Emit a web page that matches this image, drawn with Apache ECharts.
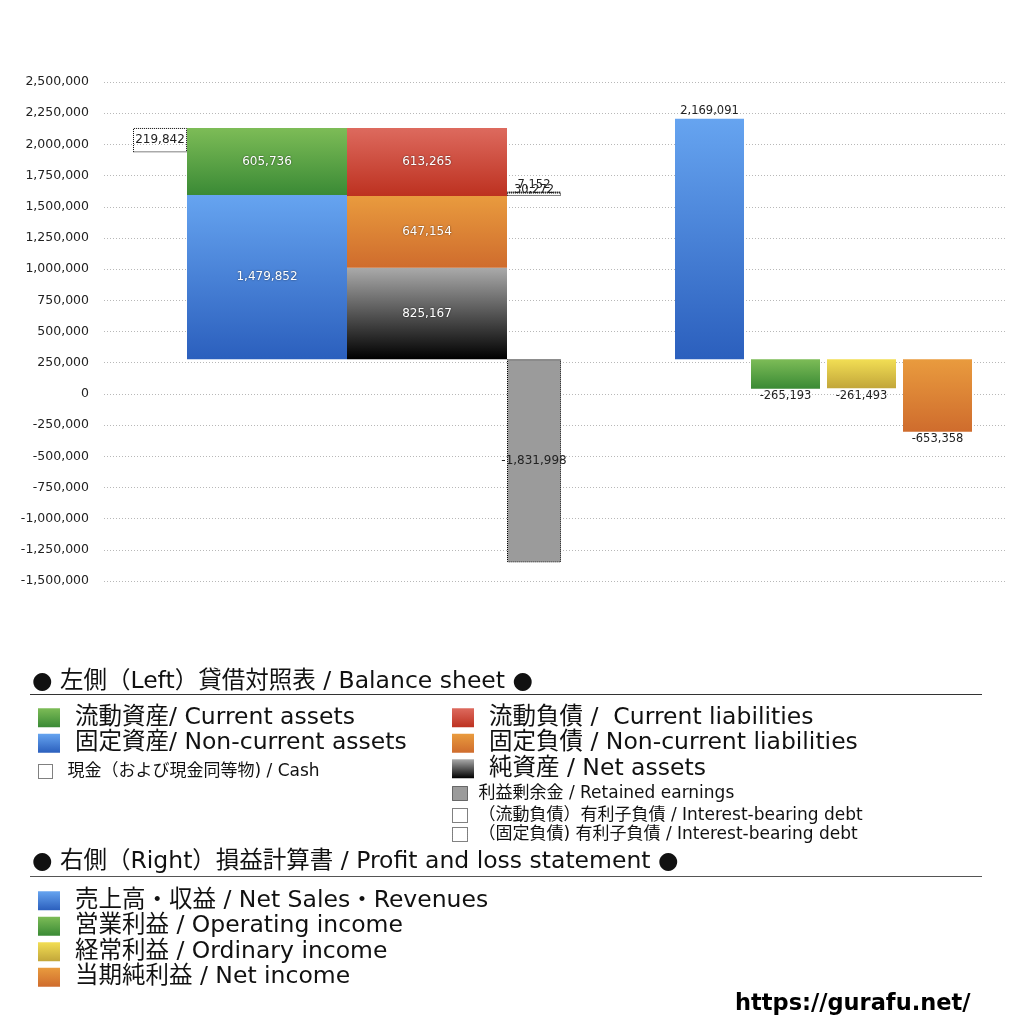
<!DOCTYPE html>
<html><head><meta charset="utf-8">
<script src="https://cdn.jsdelivr.net/npm/echarts@6/dist/echarts.min.js"></script>
<style>html,body{margin:0;padding:0;background:#fff}#c{width:1024px;height:1024px}</style>
</head><body><div id="c"></div>
<script>
// ---- data ----
const assetNames = ['流動資産/ Current assets', '固定資産/ Non-current assets'];
const assetValues = [605736, 1479852];
const liabilityNames = ['流動負債 /  Current liabilities', '固定負債 / Non-current liabilities', '純資産 / Net assets'];
const liabilityValues = [613265, 647154, 825167];
const cashNames = ['現金（および現金同等物) / Cash'];
const cashValues = [219842];
const retainedNames = ['利益剰余金 / Retained earnings'];
const retainedValues = [-1831998];
const debtNames = ['（流動負債）有利子負債 / Interest-bearing debt', '（固定負債) 有利子負債 / Interest-bearing debt'];
const debtValues = [7152, 30272];
const plNames = ['売上高・収益 / Net Sales・Revenues', '営業利益 / Operating income', '経常利益 / Ordinary income', '当期純利益 / Net income'];
const plValues = [2169091, -265193, -261493, -653358];
const bsCategories = ['貸借対照表'];
const plCategories = ['売上高', '営業利益', '経常利益', '当期純利益'];
const yTickRange = [-1500000, 2500000];
const yTickStep = 250000;
const dataRange = [-2000000, 2500000];

// ---- style ----
const FONT = '"DejaVu Sans", "Noto Sans CJK JP", sans-serif';
const grad = (a, b) => new echarts.graphic.LinearGradient(0, 0, 0, 1, [{offset: 0, color: a}, {offset: 1, color: b}]);
const C = {
  green: () => grad('#7dbc57', '#3a8a35'),
  blue: () => grad('#66a4f0', '#2b5fbd'),
  red: () => grad('#dd6a5e', '#bd3120'),
  orange: () => grad('#e99b3e', '#cf6c2d'),
  black: () => grad('#aaaaaa', '#000000'),
  yellow: () => grad('#f2de54', '#c2a63a')
};
const fmt = v => Number(v).toLocaleString('en-US');
const whiteLabel = {show: true, position: 'inside', color: '#fff', fontSize: 12, fontFamily: FONT,
  textShadowColor: 'rgba(0,0,0,0.6)', textShadowBlur: 2, formatter: p => fmt(p.value)};
const darkLabel = pos => ({show: true, position: pos, color: '#222', fontSize: 11.5, fontFamily: FONT, distance: 2, formatter: p => fmt(p.value)});
const dotted = fill => ({color: fill, borderColor: '#000', borderWidth: 1, borderType: 'dotted'});

const assetTotal = assetValues[0] + assetValues[1];
const bsCommon = {type: 'bar', xAxisIndex: 1, yAxisIndex: 1, barGap: '0%'};
const series = [
  Object.assign({}, bsCommon, {name: '_cashBase', stack: 'cash', barWidth: 54, data: [assetTotal - cashValues[0]], itemStyle: {color: 'transparent'}, silent: true}),
  Object.assign({}, bsCommon, {name: cashNames[0], stack: 'cash', barWidth: 54, data: cashValues, itemStyle: dotted('transparent'), label: Object.assign(darkLabel('inside'), {fontSize: 12})}),
  Object.assign({}, bsCommon, {name: assetNames[1], stack: 'assets', barWidth: 160, data: [assetValues[1]], itemStyle: {color: C.blue()}, label: whiteLabel}),
  Object.assign({}, bsCommon, {name: assetNames[0], stack: 'assets', barWidth: 160, data: [assetValues[0]], itemStyle: {color: C.green()}, label: whiteLabel}),
  Object.assign({}, bsCommon, {name: liabilityNames[2], stack: 'liab', barWidth: 160, data: [liabilityValues[2]], itemStyle: {color: C.black()}, label: whiteLabel}),
  Object.assign({}, bsCommon, {name: liabilityNames[1], stack: 'liab', barWidth: 160, data: [liabilityValues[1]], itemStyle: {color: C.orange()}, label: whiteLabel}),
  Object.assign({}, bsCommon, {name: liabilityNames[0], stack: 'liab', barWidth: 160, data: [liabilityValues[0]], itemStyle: {color: C.red()}, label: whiteLabel}),
  Object.assign({}, bsCommon, {name: '_debtBase', stack: 'debt', barWidth: 54, data: [liabilityValues[2] + liabilityValues[1]], itemStyle: {color: 'transparent'}, silent: true}),
  Object.assign({}, bsCommon, {name: debtNames[1], stack: 'debt', barWidth: 54, data: [debtValues[1]], itemStyle: dotted('transparent'), label: Object.assign(darkLabel('top'), {distance: 0, offset: [0, 3]})}),
  Object.assign({}, bsCommon, {name: debtNames[0], stack: 'debt', barWidth: 54, data: [debtValues[0]], itemStyle: dotted('transparent'), label: Object.assign(darkLabel('top'), {distance: 1})}),
  Object.assign({}, bsCommon, {name: retainedNames[0], stack: 'debt', barWidth: 54, data: retainedValues, itemStyle: dotted('#9b9b9b'), label: Object.assign(darkLabel('inside'), {fontSize: 12})})
];
const plColors = [C.blue, C.green, C.yellow, C.orange];
plNames.forEach((n, i) => {
  series.push({
    type: 'bar', name: n, stack: 'pl', xAxisIndex: 2, yAxisIndex: 2, barWidth: 69,
    data: plValues.map((v, j) => j === i ? v : '-'),
    itemStyle: {color: plColors[i]()},
    label: darkLabel(plValues[i] >= 0 ? 'top' : 'bottom')
  });
});

const legendBase = (extra) => Object.assign({
  orient: 'vertical', icon: 'rect', selectedMode: false, padding: 0, itemWidth: 22, itemHeight: 19, itemGap: 2,
  textStyle: {fontSize: 23.5, lineHeight: 16, color: '#111', fontFamily: FONT, padding: [6, 0, 0, 10]}
}, extra);
const smallText = pad => ({fontSize: 17, lineHeight: 12, color: '#111', fontFamily: FONT, padding: [4, 0, 0, pad]});

const gridBox = {top: 82, bottom: 443, outerBoundsMode: 'none'};
const option = {
  animation: false,
  backgroundColor: '#fff',
  grid: [
    Object.assign({left: 104, right: 18}, gridBox),
    Object.assign({left: 133, width: 428}, gridBox),
    Object.assign({left: 671.5, width: 304}, gridBox)
  ],
  xAxis: [
    {type: 'value', gridIndex: 0, show: false, min: 0, max: 1},
    {type: 'category', gridIndex: 1, show: false, data: bsCategories},
    {type: 'category', gridIndex: 2, show: false, data: plCategories}
  ],
  yAxis: [
    {type: 'value', gridIndex: 0, min: yTickRange[0], max: yTickRange[1], interval: yTickStep,
      axisLine: {show: false}, axisTick: {show: false},
      axisLabel: {color: '#222', fontSize: 12.5, fontFamily: FONT, margin: 15, formatter: v => fmt(v)},
      splitLine: {show: true, lineStyle: {color: '#b8b8b8', type: [1, 2], width: 1}}},
    {type: 'value', gridIndex: 1, show: false, min: dataRange[0], max: dataRange[1], splitLine: {show: false}},
    {type: 'value', gridIndex: 2, show: false, min: dataRange[0], max: dataRange[1], splitLine: {show: false}}
  ],
  legend: [
    legendBase({left: 38, top: 706, data: assetNames}),
    legendBase({left: 38, top: 763, itemWidth: 14, itemHeight: 14, textStyle: smallText(10),
      data: cashNames.map(n => ({name: n, itemStyle: dotted('transparent')}))}),
    legendBase({left: 452, top: 706, data: liabilityNames}),
    legendBase({left: 452, top: 785, itemWidth: 15, itemHeight: 14, textStyle: smallText(6),
      data: retainedNames.map(n => ({name: n, itemStyle: dotted('#9b9b9b')}))}),
    legendBase({left: 452, top: 807, itemWidth: 15, itemHeight: 14, textStyle: smallText(6),
      data: debtNames.map(n => ({name: n, itemStyle: dotted('transparent')}))}),
    legendBase({left: 38, top: 889, data: plNames})
  ],
  graphic: [
    {type: 'text', left: 32, top: 670, style: {text: '● 左側（Left）貸借対照表 / Balance sheet ●', fontSize: 23.5, fontFamily: FONT, fill: '#111'}},
    {type: 'line', shape: {x1: 30, y1: 694.5, x2: 982, y2: 694.5}, style: {stroke: '#333', lineWidth: 1}},
    {type: 'text', left: 32, top: 850, style: {text: '● 右側（Right）損益計算書 / Profit and loss statement ●', fontSize: 23.5, fontFamily: FONT, fill: '#111'}},
    {type: 'line', shape: {x1: 30, y1: 876.5, x2: 982, y2: 876.5}, style: {stroke: '#555', lineWidth: 1}},
    {type: 'text', left: 735, top: 993, style: {text: 'https://gurafu.net/', fontSize: 22.5, fontWeight: 'bold', fontFamily: FONT, fill: '#000'}}
  ],
  series: series
};
const chart = echarts.init(document.getElementById('c'), null, {renderer: 'canvas'});
chart.setOption(option);
</script></body></html>
